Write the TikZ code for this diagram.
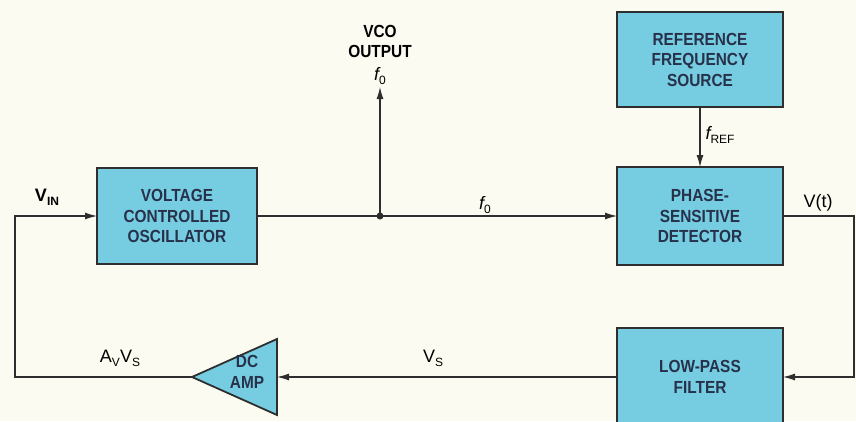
\documentclass[tikz,border=0pt]{standalone}
\usepackage{fontspec}
\setmainfont{Liberation Sans}
\newfontfamily\condfont[FakeStretch=0.88]{Liberation Sans}
\usetikzlibrary{arrows.meta,shapes.geometric}
\definecolor{paper}{HTML}{FCFBF1}
\definecolor{boxcyan}{HTML}{76CDE2}
\definecolor{inkgrey}{HTML}{2E2E2E}
\definecolor{boxink}{HTML}{27314A}

\newcommand{\lowtxt}[1]{\raisebox{-0.45ex}{\fontsize{12}{12}\selectfont #1}}

\tikzset{
  blockbox/.style={draw=inkgrey, line width=1.8pt, fill=boxcyan,
    minimum width=160pt, minimum height=96pt, align=center, outer sep=0pt,
    text=boxink, font=\condfont\bfseries\fontsize{17.5}{20.5}\selectfont},
  ampbox/.style={draw=inkgrey, line width=1.8pt, fill=boxcyan,
    isosceles triangle, shape border rotate=180, isosceles triangle stretches,
    minimum width=76pt, minimum height=85pt, inner sep=0pt, outer sep=0pt},
  boxlabel/.style={align=center, text=boxink,
    font=\condfont\bfseries\fontsize{17.5}{20.5}\selectfont},
  siglabel/.style={text=black, font=\fontsize{18}{20}\selectfont},
  wire/.style={draw=inkgrey, line width=1.1pt},
  feed/.style={wire, -{Latex[length=12pt,width=7pt]}}
}

\begin{document}
\begin{tikzpicture}[x=1pt,y=-1pt]
  \useasboundingbox (0,0) rectangle (856,421);
  \fill[paper] (0,0) rectangle (856,421);
  \clip (0,0) rectangle (856,421);
  % Blocks
  \node[blockbox] (vco) at (177,216) {VOLTAGE\\CONTROLLED\\OSCILLATOR};
  \node[blockbox, minimum width=166pt, minimum height=98pt] (psd) at (700,216) {PHASE-\\SENSITIVE\\DETECTOR};
  \node[blockbox, minimum width=166pt, minimum height=95pt] (ref) at (700,59.5) {REFERENCE\\FREQUENCY\\SOURCE};
  \node[blockbox, minimum width=166pt, minimum height=98pt] (lpf) at (700,377) {LOW-PASS\\FILTER};
  \node[ampbox, anchor=apex] (amp) at (192,377) {};
  \node[boxlabel] (amptxt) at (247,372) {DC\\AMP};
  % Forward path and VCO output
  \coordinate (tap) at (380,216);
  \coordinate (vcoout) at (380,87);
  \draw[feed] (vco.east) -- (psd.west);
  \fill[inkgrey] (tap) circle (3.5);
  \draw[feed] (tap) -- (vcoout);
  \node[boxlabel, text=black, anchor=south, inner sep=2pt] (outlbl) at (vcoout)
    {VCO\\OUTPUT\\[2pt]{\normalfont\fontsize{18}{20}\selectfont{\itshape f}\lowtxt{0}}};
  \node[siglabel] (f0) at (485,205) {{\itshape f}\lowtxt{0}};
  % Reference input
  \draw[feed] (ref.south) -- (psd.north);
  \node[siglabel] (fref) at (720,135) {{\itshape f}\lowtxt{REF}};
  % Feedback loop
  \coordinate (rightc) at (854,216);
  \coordinate (leftc) at (15,377);
  \draw[feed] (psd.east) -- (rightc) |- (lpf.east);
  \node[siglabel] (vt) at (818,203) {V(t)};
  \draw[feed] (lpf.west) -- (amp.lower side);
  \node[siglabel] (vs) at (433,358) {V\lowtxt{S}};
  \draw[feed] (amp.apex) -- (leftc) |- (vco.west);
  \node[siglabel] (avvs) at (120,358) {A\lowtxt{V}V\lowtxt{S}};
  \node[siglabel, font=\bfseries\fontsize{18}{20}\selectfont] (vin) at (47,197) {V\lowtxt{IN}};
\end{tikzpicture}
\end{document}
